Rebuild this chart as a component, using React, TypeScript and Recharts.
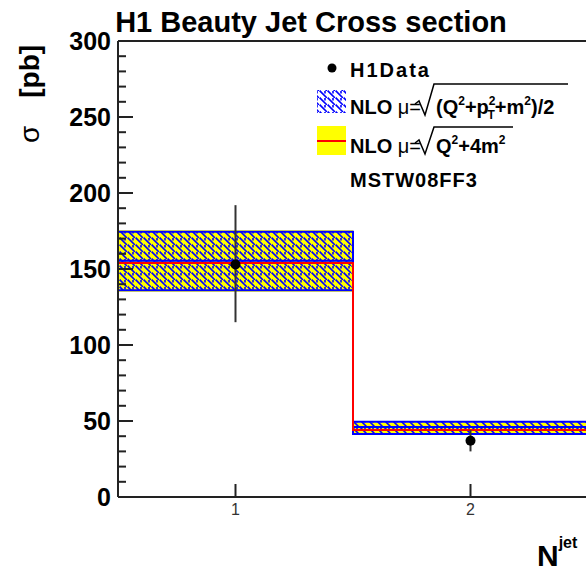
import React from "react"
import {
  ComposedChart,
  Area,
  Line,
  Scatter,
  ErrorBar,
  XAxis,
  YAxis,
  ReferenceLine,
  Legend,
} from "recharts"

// bins in N^jet
const BIN_LOW = [0.5, 1.5]
const BIN_HIGH = [1.5, 2.5]

// NLO, mu = sqrt((Q^2 + pT^2 + m^2)/2)  -> blue hatched band
const NLO_PT_CENTRAL = [155.5, 46]
const NLO_PT_DOWN = [136, 41.5]
const NLO_PT_UP = [174.5, 49.5]

// NLO, mu = sqrt(Q^2 + 4m^2)  -> yellow band, red line
const NLO_M_CENTRAL = [154, 44]
const NLO_M_DOWN = [135, 42]
const NLO_M_UP = [175.5, 49]

// H1 data
const DATA_X = [1, 2]
const DATA_Y = [153, 37]
const DATA_ERR_DOWN = [38, 7]
const DATA_ERR_UP = [39, 7]

const X_TICKS = [1, 2]
const Y_MAJOR = [0, 50, 100, 150, 200, 250, 300]
const Y_TICKS = [
  0, 10, 20, 30, 40, 50, 60, 70, 80, 90, 100, 110, 120, 130, 140, 150, 160, 170, 180, 190, 200,
  210, 220, 230, 240, 250, 260, 270, 280, 290, 300,
]

const FONT = "'Liberation Sans', Arial, sans-serif"
const AXIS = "#222"

const stepRows: any[] = BIN_LOW.map((lo, i) => ({
  x: lo,
  ptMid: NLO_PT_CENTRAL[i],
  ptBand: [NLO_PT_DOWN[i], NLO_PT_UP[i]],
  mMid: NLO_M_CENTRAL[i],
  mBand: [NLO_M_DOWN[i], NLO_M_UP[i]],
}))
// close the last bin at its upper edge
stepRows.push({ ...stepRows[stepRows.length - 1], x: BIN_HIGH[BIN_HIGH.length - 1] })

const dataPoints = DATA_X.map((x, i) => ({
  x,
  y: DATA_Y[i],
  err: [DATA_ERR_DOWN[i], DATA_ERR_UP[i]],
}))

function LeftTick({ x, y, payload }: any) {
  const major = Y_MAJOR.includes(payload.value)
  return (
    <g>
      <line x1={x} x2={x + (major ? 15 : 8)} y1={y} y2={y} stroke={AXIS} strokeWidth={2} />
      {major && (
        <text
          x={x - 7}
          y={y}
          dy="0.36em"
          textAnchor="end"
          fontSize={25}
          fontWeight="bold"
          fontFamily={FONT}
          fill="#000"
        >
          {payload.value}
        </text>
      )}
    </g>
  )
}

function RightTick({ x, y, payload }: any) {
  const major = Y_MAJOR.includes(payload.value)
  return <line x1={x} x2={x - (major ? 16 : 8)} y1={y} y2={y} stroke={AXIS} strokeWidth={2} />
}

function BottomTick({ x, y, payload }: any) {
  return (
    <g>
      <line x1={x} x2={x} y1={y} y2={y - 13} stroke={AXIS} strokeWidth={2} />
      <text x={x} y={y + 18} textAnchor="middle" fontSize={16} fontFamily={FONT} fill="#333">
        {payload.value}
      </text>
    </g>
  )
}

function YLabel() {
  return (
    <text
      x={39}
      y={143}
      transform="rotate(-90 39 143)"
      fontFamily={FONT}
      fontSize={28}
      fill="#000"
    >
      <tspan>σ</tspan>
      <tspan dx={28} fontWeight="bold">[pb]</tspan>
    </text>
  )
}

function XLabel() {
  return (
    <text x={537} y={566} fontFamily={FONT} fontWeight="bold" fill="#000">
      <tspan fontSize={30}>N</tspan>
      <tspan fontSize={16} dy={-18}>jet</tspan>
    </text>
  )
}

function DataDot({ cx, cy }: any) {
  return <circle cx={cx} cy={cy} r={5} fill="#000" />
}

function LegendBox() {
  const txt = { fontFamily: FONT, fontSize: 20, fontWeight: "bold" as const, fill: "#000" }
  return (
    <svg width={586} height={574} style={{ display: "block" }}>
      <circle cx={332} cy={68} r={4.5} fill="#000" />
      <text x={350} y={77} {...txt} letterSpacing={2}>H1Data</text>

      <rect x={317} y={90} width={29} height={23} fill="url(#nloHatch)" />
      <text x={350} y={114} {...txt}>
        NLO <tspan fontWeight="normal">μ=</tspan>
      </text>
      <path d="M415,104 L419,101 L425,115 L434,84 L568,84" fill="none" stroke="#000" strokeWidth={1.5} />
      <text x={436} y={114} {...txt}>
        (Q<tspan fontSize={12} dy={-9}>2</tspan>
        <tspan dy={9}>+p</tspan>
        <tspan fontSize={12} dy={-9}>2</tspan>
        <tspan fontSize={12} dx={-8} dy={14}>T</tspan>
        <tspan dy={-5}>+m</tspan>
        <tspan fontSize={12} dy={-9}>2</tspan>
        <tspan dy={9}>)/2</tspan>
      </text>

      <rect x={317} y={126} width={29} height={29} fill="#ffff00" />
      <line x1={317} x2={346} y1={141} y2={141} stroke="#ff0000" strokeWidth={2} />
      <text x={350} y={153} {...txt}>
        NLO <tspan fontWeight="normal">μ=</tspan>
      </text>
      <path d="M415,143 L419,140 L425,154 L434,127 L513,127" fill="none" stroke="#000" strokeWidth={1.5} />
      <text x={436} y={153} {...txt}>
        Q<tspan fontSize={12} dy={-9}>2</tspan>
        <tspan dy={9}>+4m</tspan>
        <tspan fontSize={12} dy={-9}>2</tspan>
      </text>

      <text x={350} y={187} {...txt} letterSpacing={1}>MSTW08FF3</text>
    </svg>
  )
}

export default function App() {
  return (
    <div
      style={{
        position: "absolute",
        left: 0,
        top: 0,
        width: 586,
        height: 574,
        overflow: "hidden",
        background: "#fff",
        fontFamily: FONT,
      }}
    >
      <ComposedChart width={600} height={574} margin={{ top: 41, right: 12, bottom: 47, left: 0 }}>
        <defs>
          <pattern id="nloHatch" patternUnits="userSpaceOnUse" width={8} height={7}>
            <path d="M0,0 L7,7 M-1,6 L1,8 M7,-1 L9,1 M5,0 L5,2.5" stroke="#0000ff" strokeWidth={1.6} />
          </pattern>
        </defs>
        <text
          x={311}
          y={32}
          textAnchor="middle"
          fontFamily={FONT}
          fontSize={29}
          fontWeight="bold"
          fill="#000"
        >
          H1 Beauty Jet Cross section
        </text>
        <XAxis
          dataKey="x"
          type="number"
          domain={[0.5, 2.5]}
          ticks={X_TICKS}
          allowDataOverflow
          height={30}
          tickSize={0}
          tickMargin={0}
          tickLine={false}
          tick={BottomTick}
          axisLine={{ stroke: AXIS, strokeWidth: 2 }}
          label={<XLabel />}
        />
        <YAxis
          yAxisId="left"
          type="number"
          domain={[0, 300]}
          ticks={Y_TICKS}
          interval={0}
          allowDataOverflow
          width={118}
          tickSize={0}
          tickMargin={0}
          tickLine={false}
          tick={LeftTick}
          axisLine={{ stroke: AXIS, strokeWidth: 2 }}
          label={<YLabel />}
        />
        <YAxis
          yAxisId="right"
          orientation="right"
          type="number"
          domain={[0, 300]}
          ticks={Y_TICKS}
          interval={0}
          allowDataOverflow
          width={0}
          tickSize={0}
          tickMargin={0}
          tickLine={false}
          tick={RightTick}
          axisLine={{ stroke: AXIS, strokeWidth: 2 }}
        />
        <Area
          yAxisId="left"
          data={stepRows}
          dataKey="mBand"
          type="stepAfter"
          fill="#ffff00"
          fillOpacity={1}
          stroke="none"
          isAnimationActive={false}
          activeDot={false}
        />
        <Area
          yAxisId="left"
          data={stepRows}
          dataKey="ptBand"
          type="stepAfter"
          fill="url(#nloHatch)"
          fillOpacity={1}
          stroke="#0000ff"
          strokeWidth={2}
          isAnimationActive={false}
          activeDot={false}
        />
        <Line
          yAxisId="left"
          data={stepRows}
          dataKey="ptMid"
          type="stepAfter"
          stroke="#0000ff"
          strokeWidth={2}
          dot={false}
          activeDot={false}
          isAnimationActive={false}
        />
        <Line
          yAxisId="left"
          data={stepRows}
          dataKey="mMid"
          type="stepAfter"
          stroke="#ff0000"
          strokeWidth={2}
          dot={false}
          activeDot={false}
          isAnimationActive={false}
        />
        <ReferenceLine yAxisId="left" y={300} stroke={AXIS} strokeWidth={2} />
        <Scatter
          yAxisId="left"
          data={dataPoints}
          dataKey="y"
          shape={DataDot}
          isAnimationActive={false}
        >
          <ErrorBar
            dataKey="err"
            direction="y"
            width={0}
            stroke="#333"
            strokeWidth={2}
            isAnimationActive={false}
          />
        </Scatter>
        <Legend
          layout="vertical"
          align="center"
          verticalAlign="middle"
          wrapperStyle={{ left: 0, top: 0, width: 586, height: 574, pointerEvents: "none" }}
          content={() => <LegendBox />}
        />
      </ComposedChart>
    </div>
  )
}
